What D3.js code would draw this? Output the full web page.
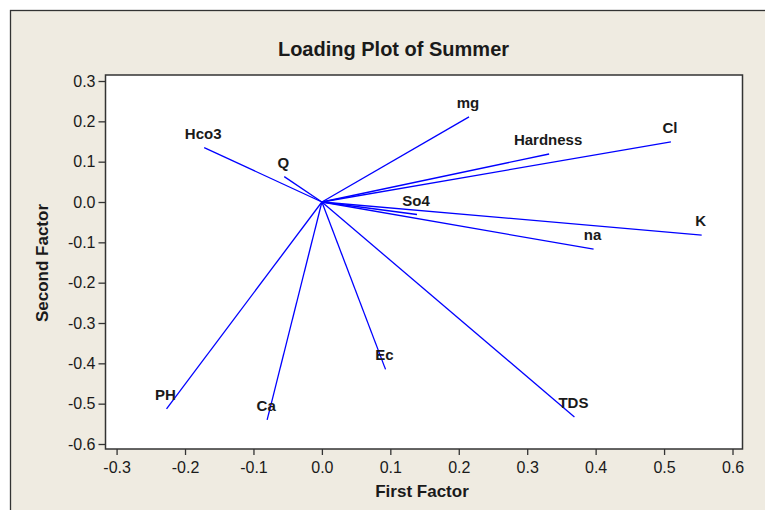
<!DOCTYPE html>
<html>
<head>
<meta charset="utf-8">
<script src="https://cdn.jsdelivr.net/npm/d3@7"></script>
<style>
  html, body { margin: 0; padding: 0; background: #ffffff; }
  svg { display: block; }
</style>
</head>
<body>
<svg id="chart" width="765" height="510"></svg>
<script>
// ---- data ----
const variables = ["Hco3", "Q", "mg", "Hardness", "Cl", "So4", "K", "na", "Ec", "PH", "Ca", "TDS"];
const firstFactor  = [-0.172, -0.055, 0.215, 0.332, 0.510, 0.139, 0.555, 0.397, 0.093, -0.227, -0.080, 0.369];
const secondFactor = [ 0.135,  0.063, 0.211, 0.119, 0.149, -0.031, -0.082, -0.117, -0.415, -0.513, -0.540, -0.533];
const xTicks = [-0.3, -0.2, -0.1, 0.0, 0.1, 0.2, 0.3, 0.4, 0.5, 0.6];
const yTicks = [0.3, 0.2, 0.1, 0.0, -0.1, -0.2, -0.3, -0.4, -0.5, -0.6];
const titleText = "Loading Plot of Summer";
const xTitle = "First Factor";
const yTitle = "Second Factor";

// ---- layout ----
const svg = d3.select("#chart");
const plot = { left: 105.5, top: 75, right: 742.5, bottom: 449 };
const bg = "#efebe1";
const ink = "#1a1a1a";
const font = "'Liberation Sans', Arial, sans-serif";

// outer frame
svg.append("rect")
  .attr("x", 10.5).attr("y", 10.5)
  .attr("width", 800).attr("height", 600)
  .attr("fill", bg).attr("stroke", "#333").attr("stroke-width", 1.3);

const x = d3.scaleLinear().domain([-0.3162, 0.6146]).range([plot.left, plot.right]);
const y = d3.scaleLinear().domain([-0.6124, 0.3149]).range([plot.bottom, plot.top]);

// plot area
svg.append("rect")
  .attr("x", plot.left).attr("y", plot.top)
  .attr("width", plot.right - plot.left).attr("height", plot.bottom - plot.top)
  .attr("fill", "#ffffff");

// axes
const fmt = v => d3.format(".1f")(v).replace("\u2212", "-");
const xAxis = svg.append("g")
  .attr("transform", `translate(0,${plot.bottom})`)
  .call(d3.axisBottom(x).tickValues(xTicks).tickFormat(fmt).tickSize(6).tickPadding(7));
const yAxis = svg.append("g")
  .attr("transform", `translate(${plot.left},0)`)
  .call(d3.axisLeft(y).tickValues(yTicks).tickFormat(fmt).tickSize(7).tickPadding(3));
[xAxis, yAxis].forEach(g => {
  g.select(".domain").remove();
  g.selectAll(".tick line").attr("stroke", "#333").attr("stroke-width", 1.3);
  g.selectAll(".tick text").attr("fill", ink).style("font-family", font).style("font-size", "16px");
});

// loading lines
const data = variables.map((v, i) => ({ name: v, fx: firstFactor[i], fy: secondFactor[i] }));
svg.append("g").selectAll("line").data(data).join("line")
  .attr("x1", x(0)).attr("y1", y(0))
  .attr("x2", d => x(d.fx)).attr("y2", d => y(d.fy))
  .attr("stroke", "#0000ff").attr("stroke-width", 1.3);

// labels
svg.append("g").selectAll("text").data(data).join("text")
  .attr("x", d => x(d.fx) - 1)
  .attr("y", d => y(d.fy) - 9)
  .attr("text-anchor", "middle")
  .attr("fill", ink)
  .style("font-family", font).style("font-weight", "bold").style("font-size", "15px")
  .text(d => d.name);

// plot border
svg.append("rect")
  .attr("x", plot.left).attr("y", plot.top)
  .attr("width", plot.right - plot.left).attr("height", plot.bottom - plot.top)
  .attr("fill", "none").attr("stroke", "#333").attr("stroke-width", 1.5);

// titles
svg.append("text")
  .attr("x", 393.5).attr("y", 55.5)
  .attr("text-anchor", "middle").attr("fill", ink)
  .style("font-family", font).style("font-weight", "bold").style("font-size", "20px")
  .text(titleText);
svg.append("text")
  .attr("x", 422).attr("y", 496.5)
  .attr("text-anchor", "middle").attr("fill", ink)
  .style("font-family", font).style("font-weight", "bold").style("font-size", "17px")
  .text(xTitle);
svg.append("text")
  .attr("transform", "translate(47.5,263) rotate(-90)")
  .attr("text-anchor", "middle").attr("fill", ink)
  .style("font-family", font).style("font-weight", "bold").style("font-size", "17px")
  .text(yTitle);
</script>
</body>
</html>
